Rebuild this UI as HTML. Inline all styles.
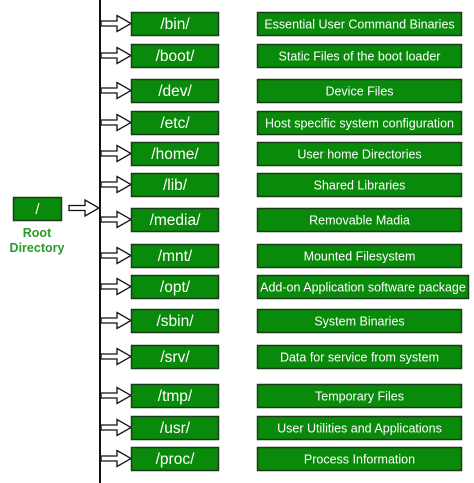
<!DOCTYPE html>
<html><head><meta charset="utf-8"><style>
html,body{margin:0;padding:0;background:#fff;width:474px;height:483px;overflow:hidden}
.l{font-size:15.5px;fill:#fff;text-anchor:middle}
.r{font-size:12.5px;fill:#fff;text-anchor:middle}
.b{fill:#0a8a0a;stroke:#1c3a1c;stroke-width:1.5}
.a{fill:#fff;stroke:#111;stroke-width:1.3}
</style></head><body>
<svg width="474" height="483" xmlns="http://www.w3.org/2000/svg" font-family="Liberation Sans, Arial, sans-serif">
<line x1="100" y1="0" x2="100" y2="483" stroke="#111" stroke-width="2"/>
<rect class="b" x="13.5" y="197.5" width="48" height="23"/>
<text x="37.5" y="214" fill="#fff" font-size="15" text-anchor="middle">/</text>
<text x="37" y="237" fill="#2a9a2a" font-size="12.5" font-weight="bold" text-anchor="middle">Root</text>
<text x="37" y="252" fill="#2a9a2a" font-size="12.5" font-weight="bold" text-anchor="middle">Directory</text>
<path class="a" transform="translate(69,208)" d="M0,-2.5 H16 V-8 L30,0 L16,8 V2.5 H0 Z"/>

<g transform="translate(0,12)"><path class="a" transform="translate(101,11.5)" d="M0,-2.5 H16 V-8 L30,0 L16,8 V2.5 H0 Z"/><rect class="b" x="131.5" y="0.5" width="87" height="23"/><text class="l" x="175" y="17">/bin/</text><rect class="b" x="257.5" y="0.5" width="204" height="23"/><text class="r" x="359.5" y="16.5">Essential User Command Binaries</text></g>
<g transform="translate(0,44)"><path class="a" transform="translate(101,11.5)" d="M0,-2.5 H16 V-8 L30,0 L16,8 V2.5 H0 Z"/><rect class="b" x="131.5" y="0.5" width="87" height="23"/><text class="l" x="175" y="17">/boot/</text><rect class="b" x="257.5" y="0.5" width="204" height="23"/><text class="r" x="359.5" y="16.5">Static Files of the boot loader</text></g>
<g transform="translate(0,79)"><path class="a" transform="translate(101,11.5)" d="M0,-2.5 H16 V-8 L30,0 L16,8 V2.5 H0 Z"/><rect class="b" x="131.5" y="0.5" width="87" height="23"/><text class="l" x="175" y="17">/dev/</text><rect class="b" x="257.5" y="0.5" width="204" height="23"/><text class="r" x="359.5" y="16.5">Device Files</text></g>
<g transform="translate(0,111)"><path class="a" transform="translate(101,11.5)" d="M0,-2.5 H16 V-8 L30,0 L16,8 V2.5 H0 Z"/><rect class="b" x="131.5" y="0.5" width="87" height="23"/><text class="l" x="175" y="17">/etc/</text><rect class="b" x="257.5" y="0.5" width="204" height="23"/><text class="r" x="359.5" y="16.5">Host specific system configuration</text></g>
<g transform="translate(0,142)"><path class="a" transform="translate(101,11.5)" d="M0,-2.5 H16 V-8 L30,0 L16,8 V2.5 H0 Z"/><rect class="b" x="131.5" y="0.5" width="87" height="23"/><text class="l" x="175" y="17">/home/</text><rect class="b" x="257.5" y="0.5" width="204" height="23"/><text class="r" x="359.5" y="16.5">User home Directories</text></g>
<g transform="translate(0,173)"><path class="a" transform="translate(101,11.5)" d="M0,-2.5 H16 V-8 L30,0 L16,8 V2.5 H0 Z"/><rect class="b" x="131.5" y="0.5" width="87" height="23"/><text class="l" x="175" y="17">/lib/</text><rect class="b" x="257.5" y="0.5" width="204" height="23"/><text class="r" x="359.5" y="16.5">Shared Libraries</text></g>
<g transform="translate(0,208)"><path class="a" transform="translate(101,11.5)" d="M0,-2.5 H16 V-8 L30,0 L16,8 V2.5 H0 Z"/><rect class="b" x="131.5" y="0.5" width="87" height="23"/><text class="l" x="175" y="17">/media/</text><rect class="b" x="257.5" y="0.5" width="204" height="23"/><text class="r" x="359.5" y="16.5">Removable Madia</text></g>
<g transform="translate(0,244)"><path class="a" transform="translate(101,11.5)" d="M0,-2.5 H16 V-8 L30,0 L16,8 V2.5 H0 Z"/><rect class="b" x="131.5" y="0.5" width="87" height="23"/><text class="l" x="175" y="17">/mnt/</text><rect class="b" x="257.5" y="0.5" width="204" height="23"/><text class="r" x="359.5" y="16.5">Mounted Filesystem</text></g>
<g transform="translate(0,275)"><path class="a" transform="translate(101,11.5)" d="M0,-2.5 H16 V-8 L30,0 L16,8 V2.5 H0 Z"/><rect class="b" x="131.5" y="0.5" width="87" height="23"/><text class="l" x="175" y="17">/opt/</text><rect class="b" x="257.5" y="0.5" width="211" height="23"/><text class="r" x="363" y="16.5">Add-on Application software package</text></g>
<g transform="translate(0,309)"><path class="a" transform="translate(101,11.5)" d="M0,-2.5 H16 V-8 L30,0 L16,8 V2.5 H0 Z"/><rect class="b" x="131.5" y="0.5" width="87" height="23"/><text class="l" x="175" y="17">/sbin/</text><rect class="b" x="257.5" y="0.5" width="204" height="23"/><text class="r" x="359.5" y="16.5">System Binaries</text></g>
<g transform="translate(0,345)"><path class="a" transform="translate(101,11.5)" d="M0,-2.5 H16 V-8 L30,0 L16,8 V2.5 H0 Z"/><rect class="b" x="131.5" y="0.5" width="87" height="23"/><text class="l" x="175" y="17">/srv/</text><rect class="b" x="257.5" y="0.5" width="204" height="23"/><text class="r" x="359.5" y="16.5">Data for service from system</text></g>
<g transform="translate(0,384)"><path class="a" transform="translate(101,11.5)" d="M0,-2.5 H16 V-8 L30,0 L16,8 V2.5 H0 Z"/><rect class="b" x="131.5" y="0.5" width="87" height="23"/><text class="l" x="175" y="17">/tmp/</text><rect class="b" x="257.5" y="0.5" width="204" height="23"/><text class="r" x="359.5" y="16.5">Temporary Files</text></g>
<g transform="translate(0,416)"><path class="a" transform="translate(101,11.5)" d="M0,-2.5 H16 V-8 L30,0 L16,8 V2.5 H0 Z"/><rect class="b" x="131.5" y="0.5" width="87" height="23"/><text class="l" x="175" y="17">/usr/</text><rect class="b" x="257.5" y="0.5" width="204" height="23"/><text class="r" x="359.5" y="16.5">User Utilities and Applications</text></g>
<g transform="translate(0,447)"><path class="a" transform="translate(101,11.5)" d="M0,-2.5 H16 V-8 L30,0 L16,8 V2.5 H0 Z"/><rect class="b" x="131.5" y="0.5" width="87" height="23"/><text class="l" x="175" y="17">/proc/</text><rect class="b" x="257.5" y="0.5" width="204" height="23"/><text class="r" x="359.5" y="16.5">Process Information</text></g>
</svg>
</body></html>
